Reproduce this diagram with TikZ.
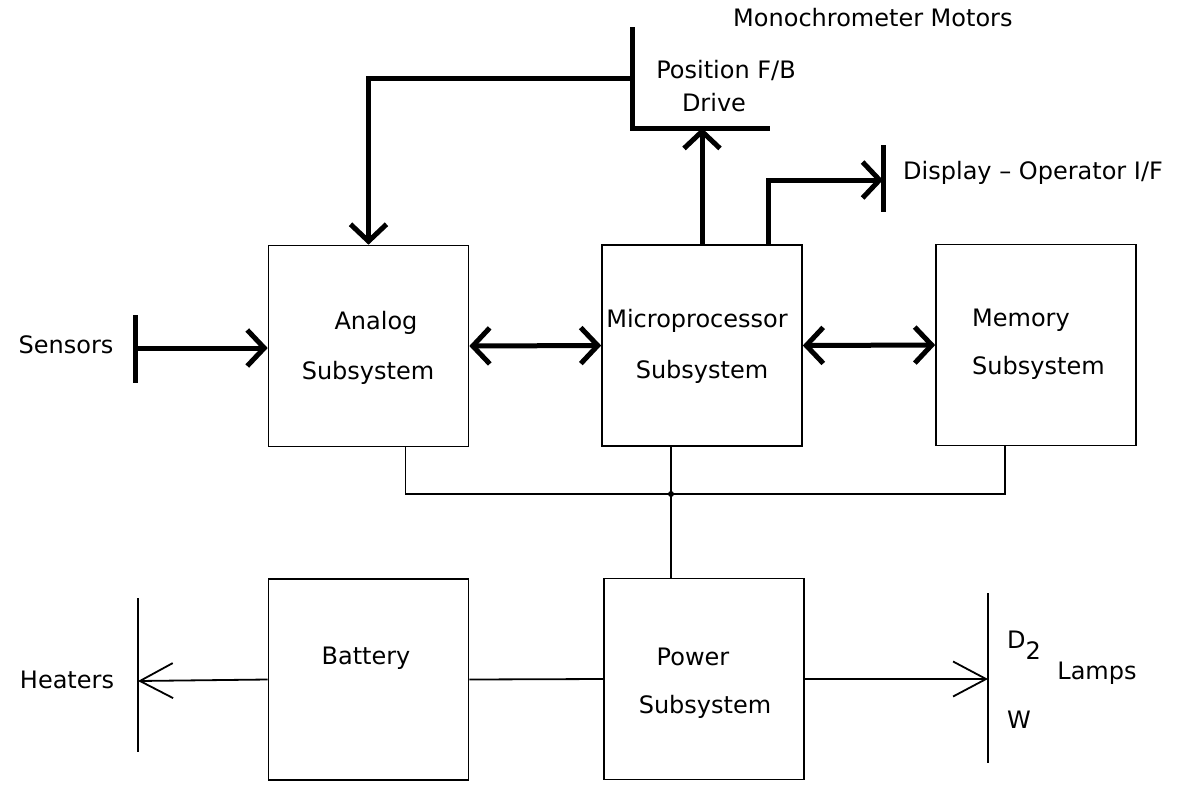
\documentclass[tikz,border=0pt]{standalone}
\usepackage{fontspec}
\setmainfont{DejaVu Sans}
\usepackage{tikz}
\usetikzlibrary{calc,positioning,arrows.meta}

\tikzset{
    box/.style={draw, rectangle, line width=1.6pt, minimum width=200pt, minimum height=201pt, inner sep=0pt},
    txt/.style={inner sep=0pt, font=\fontsize{24}{28}\selectfont},
    heavy/.style={line width=5pt},
    thin/.style={line width=1.8pt},
    hd/.tip={Straight Barb[length=17pt,width=36pt]},
    ld/.tip={Straight Barb[length=33pt,width=35pt]}
}

\begin{document}
\begin{tikzpicture}[x=1pt, y=-1pt]
  \useasboundingbox (0,0) rectangle (1189,785);

  % boxes
  \node[box] (ana) at (368.5,346) {};
  \node[box] (mic) at (702,345.5) {};
  \node[box] (mem) at (1036,345) {};
  \node[box] (bat) at (368.5,679.5) {};
  \node[box] (pow) at (704,679) {};

  % box texts
  \node[txt] (anaA) at (376,323) {Analog};
  \node[txt] (anaB) at (368,373) {Subsystem};
  \node[txt] (micA) at (697,321) {Microprocessor};
  \node[txt] (micB) at (702,372) {Subsystem};
  \node[txt, anchor=west] (memA) at (972,320) {Memory};
  \node[txt, anchor=west] (memB) at (972,368) {Subsystem};
  \node[txt] (batA) at (366,658) {Battery};
  \node[txt] (powA) at (693,657) {Power};
  \node[txt] (powB) at (705,707) {Subsystem};

  % outside labels
  \node[txt] (sens) at (66,345) {Sensors};
  \node[txt] (heat) at (67,680) {Heaters};
  \node[txt, anchor=west] (mono) at (733,18) {Monochrometer Motors};
  \node[txt] (posfb) at (726,70) {Position F/B};
  \node[txt] (drv) at (714,103) {Drive};
  \node[txt, anchor=west] (disp) at (903,173) {Display \textendash{} Operator I/F};
  \node[txt, anchor=west] (dtwo) at (1007,645) {D\raisebox{-11pt}{2}};
  \node[txt] (lamps) at (1097,673) {Lamps};
  \node[txt, anchor=west] (wlamp) at (1007,720) {W};

  % bars
  \coordinate (sbarT) at (135,315);
  \coordinate (sbarB) at (135,383);
  \coordinate (sbar) at (135,348);
  \draw[heavy] (sbarT) -- (sbarB);
  \coordinate (mbarT) at (632,27);
  \coordinate (mbarC) at (632,128);
  \coordinate (mbarE) at (770,128);
  \coordinate (mbar) at (632,78);
  \draw[heavy] (mbarT) -- (mbarC) -- (mbarE);
  \coordinate (dbarT) at (883,145);
  \coordinate (dbarB) at (883,212);
  \coordinate (dbar) at (883,180);
  \draw[heavy] (dbarT) -- (dbarB);
  \coordinate (hbarT) at (138,598);
  \coordinate (hbarB) at (138,752);
  \coordinate (hbar) at (138,681);
  \draw[thin] (hbarT) -- (hbarB);
  \coordinate (lbarT) at (988,593);
  \coordinate (lbarB) at (988,763);
  \coordinate (lbar) at (988,679);
  \draw[thin] (lbarT) -- (lbarB);

  % heavy connectors
  \draw[heavy, -hd] (sbar) -- (sbar -| ana.west);
  \draw[heavy, hd-hd] (ana.east) -- (mic.west);
  \draw[heavy, hd-hd] (mic.east) -- (mem.west);
  \draw[heavy, -hd] (mbar) -| (ana.north);
  \draw[heavy, -hd] (mic.north) -- (mic.north |- mbarC);
  \draw[heavy, -hd] ($(mic.north)+(66,0)$) |- (dbar);

  % thin connectors
  \draw[thin, -ld] (bat.west) -- (hbar);
  \draw[thin] (bat.east) -- (pow.west);
  \draw[thin, -ld] (pow.east) -- (lbar);

  % power bus
  \coordinate (jn) at (671,494);
  \draw[thin] ($(ana.south)+(37,0)$) |- (jn) -| ($(mem.south)+(-31,0)$);
  \draw[thin] ($(mic.south)+(-31,0)$) -- (jn) -- ($(pow.north)+(-33,0)$);
  \fill (jn) circle (3pt);
\end{tikzpicture}
\end{document}
